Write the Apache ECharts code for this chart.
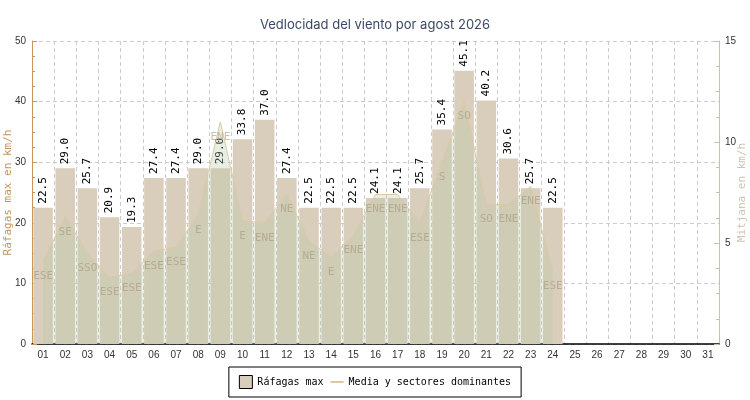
<!DOCTYPE html>
<html>
<head>
<meta charset="utf-8">
<script src="https://cdn.jsdelivr.net/npm/echarts@6/dist/echarts.min.js"></script>
<style>
  html, body { margin: 0; padding: 0; background: #fff; }
  #chart { width: 750px; height: 400px; }
</style>
</head>
<body>
<div id="chart"></div>
<script>
const days = ['01','02','03','04','05','06','07','08','09','10','11','12','13','14','15','16',
  '17','18','19','20','21','22','23','24','25','26','27','28','29','30','31'];

// gusts (left axis)
const gusts = [22.5, 29.0, 25.7, 20.9, 19.3, 27.4, 27.4, 29.0, 29.0, 33.8, 37.0, 27.4, 22.5, 22.5,
  22.5, 24.1, 24.1, 25.7, 35.4, 45.1, 40.2, 30.6, 25.7, 22.5, null, null, null, null, null, null, null];

// mean speed (right axis)
const meanSpeed = [4.1, 6.3, 4.5, 3.3, 3.5, 4.6, 4.8, 6.4, 11.0, 6.1, 6.0, 7.4, 5.1, 4.3,
  5.4, 7.4, 7.4, 6.0, 9.0, 12.0, 6.9, 6.9, 7.8, 3.6, null, null, null, null, null, null, null];

const sectors = ['ESE','SE','SSO','ESE','ESE','ESE','ESE','E','ENE','E','ENE','NE','NE','E',
  'ENE','ENE','ENE','ESE','S','SO','SO','ENE','ENE','ESE'];

const mono = 'DejaVu Sans Mono';

const chart = echarts.init(document.getElementById('chart'));

chart.setOption({
  animation: false,
  title: {
    text: 'Vedlocidad del viento por agost 2026',
    left: 'center',
    top: 14,
    textStyle: { fontFamily: 'Inter', fontSize: 13, fontWeight: 'normal', color: '#3b4866' }
  },
  legend: {
    bottom: 3,
    left: 'center',
    borderColor: '#000',
    borderWidth: 1,
    padding: [8, 10],
    itemGap: 6,
    itemWidth: 13,
    itemHeight: 13,
    textStyle: { fontFamily: mono, fontSize: 10, color: '#000' },
    data: [
      { name: 'Ráfagas max', icon: 'rect', itemStyle: { borderColor: '#000', borderWidth: 1 } },
      { name: 'Media y sectores dominantes' }
    ]
  },
  grid: { left: 32, right: 31, top: 41, bottom: 56, outerBoundsMode: 'none' },
  xAxis: {
    type: 'category',
    data: days,
    boundaryGap: true,
    axisLine: { lineStyle: { color: '#000', width: 1.5 } },
    axisTick: { inside: true, length: 5, lineStyle: { color: '#000' } },
    axisLabel: { fontSize: 10, color: '#333', margin: 6 },
    splitLine: { show: true, lineStyle: { type: [4, 3], color: '#ccc' } }
  },
  yAxis: [
    {
      type: 'value',
      min: 0,
      max: 50,
      interval: 10,
      name: 'Ráfagas max en km/h',
      nameLocation: 'middle',
      nameGap: 18,
      nameMoveOverlap: false,
      nameTextStyle: { fontFamily: mono, fontSize: 11, color: '#c8955a' },
      axisLine: { show: true, lineStyle: { color: '#c8955a' } },
      axisTick: { show: true, inside: true, length: 5, lineStyle: { color: '#c8955a' } },
      minorTick: { show: true, splitNumber: 4, length: 3, lineStyle: { color: '#c8955a' } },
      axisLabel: { fontSize: 10, color: '#333', margin: 6 },
      splitLine: { show: true, lineStyle: { type: [4, 3], color: '#ccc' } }
    },
    {
      type: 'value',
      min: 0,
      max: 15,
      interval: 5,
      name: 'Mitjana en km/h',
      nameLocation: 'middle',
      nameGap: 18,
      nameMoveOverlap: false,
      nameTextStyle: { fontFamily: mono, fontSize: 11, color: '#cdc4b4' },
      axisLine: { show: true, lineStyle: { color: '#c9c0b0' } },
      axisTick: { show: true, inside: true, length: 5, lineStyle: { color: '#c9c0b0' } },
      minorTick: { show: true, splitNumber: 4, length: 3, lineStyle: { color: '#c9c0b0' } },
      axisLabel: { fontSize: 10, color: '#333', margin: 6 },
      splitLine: { show: false }
    }
  ],
  series: [
    {
      name: 'Ráfagas max',
      type: 'bar',
      data: gusts,
      barCategoryGap: '12%',
      itemStyle: { color: '#d9cdbb' },
      label: {
        show: true,
        position: 'top',
        rotate: 90,
        align: 'left',
        verticalAlign: 'middle',
        distance: 4,
        fontFamily: mono,
        fontSize: 11,
        color: '#000',
        formatter: p => p.value.toFixed(1)
      }
    },
    {
      name: 'Media y sectores dominantes',
      type: 'line',
      yAxisIndex: 1,
      data: meanSpeed,
      symbol: 'circle',
      symbolSize: 1,
      itemStyle: { color: 'rgba(0,0,0,0)' },
      lineStyle: { color: '#dcc9a6', width: 1 },
      areaStyle: { color: 'rgba(185,200,170,0.45)', origin: 'start' },
      label: {
        show: true,
        position: 'bottom',
        distance: 9,
        fontFamily: mono,
        fontSize: 11,
        color: 'rgba(165,150,120,0.6)',
        formatter: p => sectors[p.dataIndex] || ''
      },
      z: 3
    }
  ]
});
</script>
</body>
</html>
